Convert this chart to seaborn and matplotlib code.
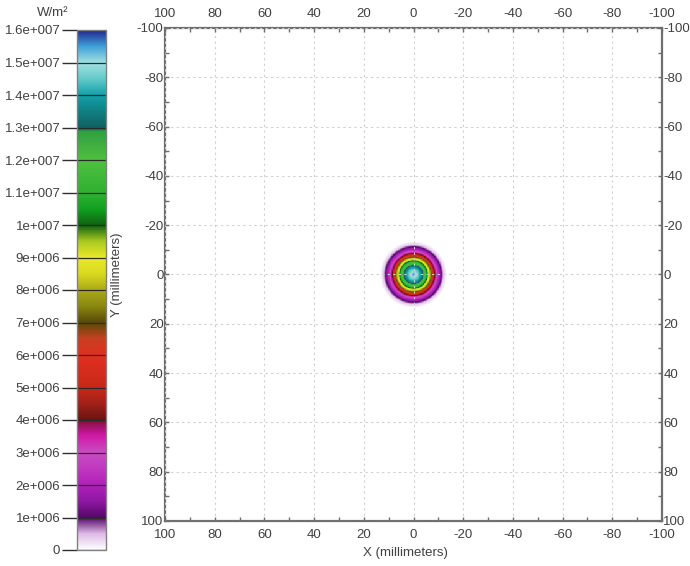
import numpy as np
import pandas as pd
import matplotlib
matplotlib.use("Agg")
import matplotlib.pyplot as plt
from matplotlib.colors import LinearSegmentedColormap
import seaborn as sns

# Radial irradiance profile of the beam spot (centred at X=0, Y=0)
radius_mm = [0, 1.0, 2.5, 3.8, 4.8, 5.6, 6.2, 6.9, 7.6, 8.4, 9.3, 10.2, 11.2, 12.2, 13.6]
irradiance = [1.56e7, 1.5e7, 1.42e7, 1.3e7, 1.15e7, 1.0e7, 9.0e6, 7.5e6, 6.0e6,
              4.2e6, 3.0e6, 2.0e6, 1.0e6, 3.5e5, 0.0]

# Axis ticks
axis_ticks = [100, 80, 60, 40, 20, 0, -20, -40, -60, -80, -100]
cbar_ticks = [0, 1e6, 2e6, 3e6, 4e6, 5e6, 6e6, 7e6, 8e6, 9e6, 1e7,
              1.1e7, 1.2e7, 1.3e7, 1.4e7, 1.5e7, 1.6e7]
cbar_labels = ["0", "1e+006", "2e+006", "3e+006", "4e+006", "5e+006", "6e+006",
               "7e+006", "8e+006", "9e+006", "1e+007", "1.1e+007", "1.2e+007",
               "1.3e+007", "1.4e+007", "1.5e+007", "1.6e+007"]

# Banded false-colour palette (value in W/m², colour)
palette_stops = [
    (0.0, "#ffffff"), (0.5e6, "#dcb8e4"), (1.0e6, "#56086a"), (1.5e6, "#9018a4"),
    (2.0e6, "#b020b8"), (2.5e6, "#c038c0"), (3.0e6, "#c84cc0"), (3.5e6, "#d018a8"),
    (3.9e6, "#901050"), (4.0e6, "#6a1410"), (4.5e6, "#a02018"), (5.0e6, "#c82818"),
    (6.0e6, "#e03020"), (6.5e6, "#c84020"), (7.0e6, "#5a4a08"), (7.5e6, "#8a8810"),
    (8.0e6, "#aaa818"), (8.5e6, "#d8d820"), (9.0e6, "#e8e828"), (9.5e6, "#a8c820"),
    (1.0e7, "#106010"), (1.05e7, "#10a020"), (1.1e7, "#30b030"), (1.2e7, "#50c040"),
    (1.29e7, "#30a040"), (1.3e7, "#106060"), (1.4e7, "#10a0a8"), (1.45e7, "#60c8c8"),
    (1.5e7, "#a0e0e0"), (1.55e7, "#40a0d8"), (1.6e7, "#202890"),
]
vmax = 1.6e7
cmap = LinearSegmentedColormap.from_list(
    "irradiance", [(v / vmax, c) for v, c in palette_stops], N=512)

# Irradiance field on the detector grid
step = 0.25
x_vals = np.arange(100, -100 - step / 2, -step)   # left to right: +100 .. -100
y_vals = np.arange(-100, 100 + step / 2, step)    # top to bottom: -100 .. +100
xx, yy = np.meshgrid(x_vals, y_vals)
rr = np.hypot(xx, yy)
field = np.interp(rr, radius_mm, irradiance, right=0.0)
df = pd.DataFrame(field, index=y_vals, columns=x_vals)

sns.set_style("white")
plt.rcParams["font.family"] = ["Liberation Sans", "DejaVu Sans"]
text_col = "#404040"
spine_col = "#6e6e6e"

fig = plt.figure(figsize=(6.9, 5.66), dpi=100)
ax = fig.add_axes([165 / 690, 1 - 521 / 566, 497 / 690, 493 / 566])
cax = fig.add_axes([77 / 690, 1 - 550 / 566, 29 / 690, 520 / 566])

sns.heatmap(df, ax=ax, cmap=cmap, vmin=0, vmax=vmax, cbar=True, cbar_ax=cax,
            xticklabels=False, yticklabels=False, rasterized=True)


def xpos(v):
    return (100 - v) / step + 0.5


def ypos(v):
    return (v + 100) / step + 0.5


ax.set_xlim(xpos(100), xpos(-100))
ax.set_ylim(ypos(100), ypos(-100))
ax.set_xticks([xpos(v) for v in axis_ticks])
ax.set_xticklabels([str(v) for v in axis_ticks])
ax.set_yticks([ypos(v) for v in axis_ticks])
ax.set_yticklabels([str(v) for v in axis_ticks])
ax.set_xticks([xpos(v) for v in range(-90, 100, 20)], minor=True)
ax.set_yticks([ypos(v) for v in range(-90, 100, 20)], minor=True)
ax.tick_params(which="both", direction="in", length=3, width=1, color=spine_col,
               top=True, bottom=True, left=True, right=True,
               labeltop=True, labelbottom=True, labelleft=True, labelright=True,
               labelsize=9.5, labelcolor=text_col)
ax.tick_params(axis="x", which="major", pad=6)
ax.tick_params(axis="y", which="major", pad=1)
ax.set_xlabel("")
ax.set_ylabel("")
ax.grid(True, which="major", color="#cfcfcf", linestyle=(0, (2, 3)), linewidth=0.8)
ax.set_axisbelow(False)
for s in ax.spines.values():
    s.set_visible(True)
    s.set_color(spine_col)
    s.set_linewidth(1.6)

fig.text(405 / 690, 1 - 553 / 566, "X (millimeters)", ha="center", va="center",
         fontsize=9.5, color=text_col)
fig.text(117 / 690, 1 - 275 / 566, "Y (millimeters)", ha="center", va="center",
         rotation=90, fontsize=9.5, color=text_col)

# Colour bar
cbar = ax.collections[0].colorbar
cbar.set_ticks(cbar_ticks)
cbar.set_ticklabels(cbar_labels)
cax.yaxis.set_ticks_position("left")
cax.tick_params(length=11, width=1, color="#303030", labelsize=9.5,
                labelcolor=text_col, pad=1)
for t in cbar_ticks:
    cax.axhline(t, color="#2a2a2a", linewidth=0.9)
cbar.outline.set_edgecolor("#808080")
cbar.outline.set_linewidth(1.0)
fig.text(53 / 690, 1 - 13 / 566, "W/m²", ha="center", va="center",
         fontsize=9.5, color=text_col)

fig.savefig("out.png", dpi=100)
